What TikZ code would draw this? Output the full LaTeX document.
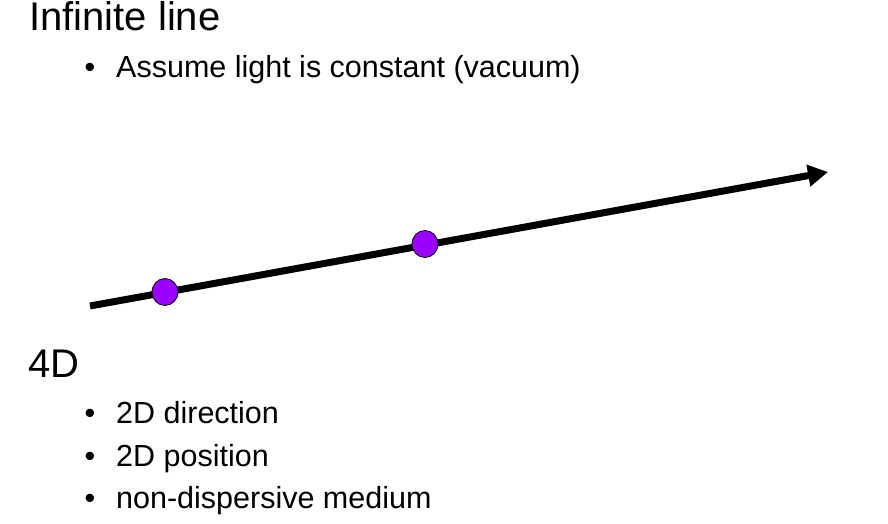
\documentclass[tikz,border=0pt]{standalone}
\usepackage{fontspec}
\setmainfont{Liberation Sans}
\usetikzlibrary{arrows.meta,shapes.geometric}
\begin{document}
\begin{tikzpicture}[x=1pt,y=-1pt,
  title/.style={anchor=base west,inner sep=0pt,font=\fontsize{40}{48}\selectfont},
  item/.style={anchor=base west,inner sep=0pt,font=\fontsize{30.5}{36}\selectfont},
  bul/.style={anchor=base,inner sep=0pt,font=\fontsize{30.5}{36}\selectfont},
  dot/.style={ellipse,draw=black,line width=0.8pt,fill=violetdot,minimum width=26pt,minimum height=27pt,inner sep=0pt}]
\definecolor{violetdot}{HTML}{9900FF}
\useasboundingbox (0,0) rectangle (888,524);
\node[title] (t1) at (29,31) {Infinite line};
\node[bul] (b1) at (90,78) {\textbullet};
\node[item] (i1) at (116,78) {Assume light is constant (vacuum)};
\coordinate (s) at (90,306);
\coordinate (e) at (828,172);
\draw[line width=7pt,-{Triangle[length=20pt,width=21pt]}] (s) -- (e);
\node[dot] (p1) at (165,292) {};
\node[dot] (p2) at (425,244) {};
\node[title] (t2) at (28,377) {4D};
\node[bul] (b2) at (90,423) {\textbullet};
\node[item] (i2) at (116,423) {2D direction};
\node[bul] (b3) at (90,466) {\textbullet};
\node[item] (i3) at (116,466) {2D position};
\node[bul] (b4) at (90,508) {\textbullet};
\node[item] (i4) at (116,508) {non-dispersive medium};
\end{tikzpicture}
\end{document}
